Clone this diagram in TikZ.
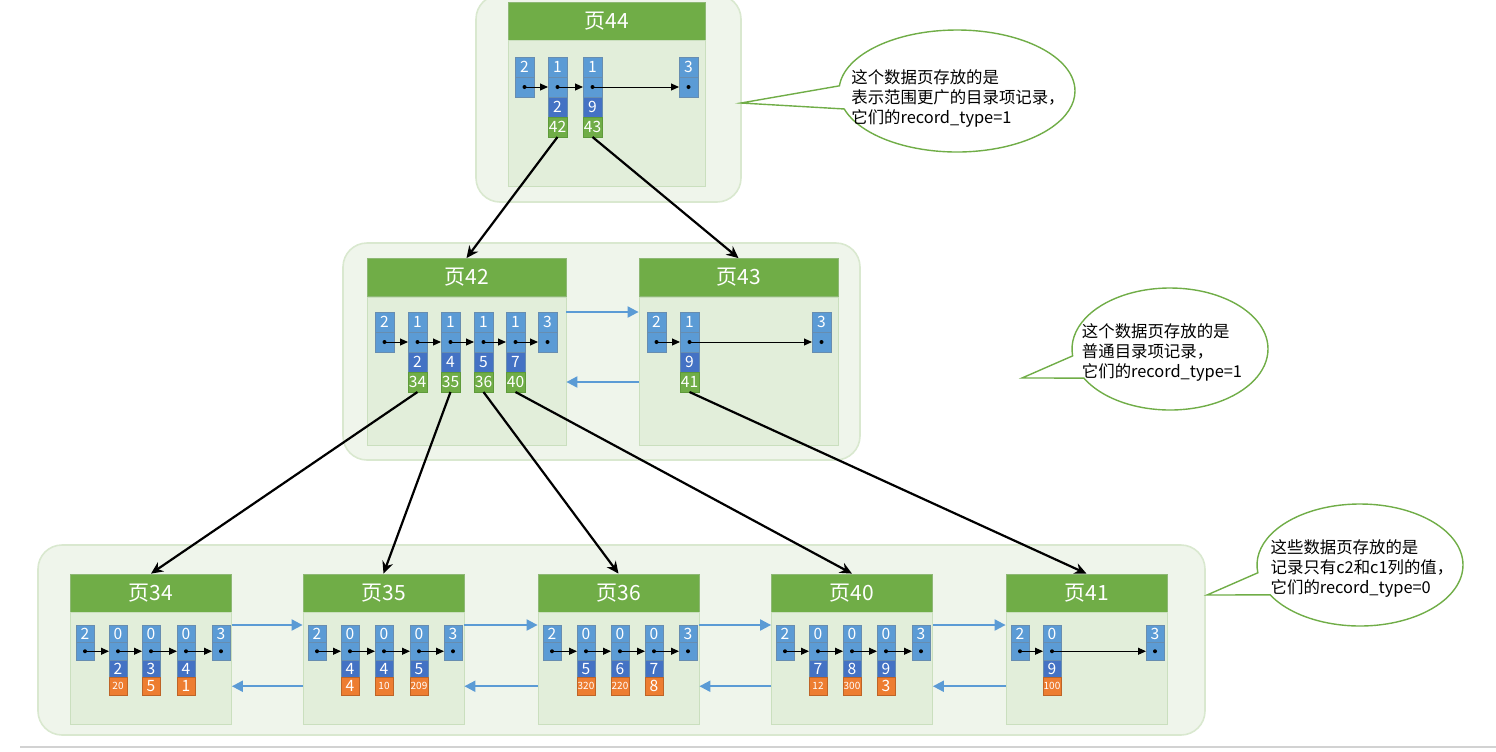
\documentclass[tikz,border=0pt]{standalone}
\usepackage{fontspec}
\setmainfont{Noto Sans CJK SC}
\usetikzlibrary{arrows.meta,positioning,shapes.callouts}
\definecolor{verdeP}{HTML}{70AD47}
\definecolor{verdeB}{HTML}{5E9A3A}
\definecolor{verdeC}{HTML}{E2EEDA}
\definecolor{verdeL}{HTML}{CADFBE}
\definecolor{fondoG}{HTML}{EFF5EB}
\definecolor{bordeG}{HTML}{D9E8CF}
\definecolor{azulR}{HTML}{5B9BD5}
\definecolor{azulB}{HTML}{41719C}
\definecolor{azulO}{HTML}{4472C4}
\definecolor{naranja}{HTML}{ED7D31}
\newcommand\pq{\fontsize{5}{5}\selectfont}

\begin{document}
\begin{tikzpicture}[x=0.5pt,y=-0.5pt,>=Stealth,
  grupo/.style={fill=fondoG,draw=bordeG,line width=0.8pt,rounded corners=12pt},
  titulo/.style={fill=verdeP,draw=verdeB!70,text=white,inner sep=0pt,
                 minimum height=19pt,font=\fontsize{10.5}{12}\selectfont},
  cuerpo/.style={fill=verdeC,draw=verdeL,inner sep=0pt},
  celda/.style={draw=azulB!80,inner sep=0pt,outer sep=0pt,anchor=north west,
                minimum width=9.5pt,minimum height=10pt,text=white,
                font=\fontsize{7.8}{8}\selectfont},
  rec/.style={celda,fill=azulR},
  clave/.style={celda,fill=azulO},
  hoja/.style={celda,fill=verdeP,draw=verdeB},
  valor/.style={celda,fill=naranja,draw=naranja!80!black},
  chica/.style={minimum width=9pt,minimum height=8.75pt},
  enlace/.style={-{Triangle[length=4pt,width=3.5pt]},line width=0.5pt},
  puntero/.style={-{Stealth[length=6pt,width=5.5pt]},line width=1.1pt},
  flecha/.style={-{Triangle[length=5.5pt,width=5.5pt]},azulR,line width=1pt},
  nota/.style={ellipse callout,draw=verdeP,fill=white,line width=0.7pt,
               callout pointer arc=22},
  texto/.style={align=left,font=\fontsize{8.2}{10}\selectfont}]
  \useasboundingbox (0,0) rectangle (1496,751);
  \clip (0,0) rectangle (1496,751);
  % fondos de los niveles
  \draw[grupo] (476,-5) rectangle (741,202);
  \draw[grupo] (343,243) rectangle (860,460);
  \draw[grupo] (38,545) rectangle (1205,735);
  \draw[gray!35,line width=1pt] (20,747) -- (1496,747);

  % pagina 44
  \node[titulo,minimum width=98.5pt] (t44) at (606.5,21) {页44};
  \node[cuerpo,minimum width=98.5pt,minimum height=73pt,below=0pt of t44] (c44) {};
  \node[rec] (p44i) at (515,57) {2};
  \node[rec,below=0pt of p44i] (p44ip) {};
  \foreach \x/\k/\v [count=\i] in {548/2/42,583/9/43}{
    \node[rec] (p44r\i) at (\x,57) {1};
    \node[rec,below=0pt of p44r\i] (p44r\i p) {};
    \node[clave,below=0pt of p44r\i p] (p44r\i k) {\k};
    \node[hoja,below=0pt of p44r\i k] (p44r\i v) {\v};
  }
  \node[rec] (p44s) at (679,57) {3};
  \node[rec,below=0pt of p44s] (p44sp) {};
  \foreach \a/\b in {p44ip/p44r1p,p44r1p/p44r2p,p44r2p/p44sp}
    \draw[enlace] (\a.center) -- (\b.west);
  \foreach \a in {p44ip,p44r1p,p44r2p,p44sp}
    \fill (\a) circle (1pt);

  % pagina 42
  \node[titulo,minimum width=99.5pt] (t42) at (466.5,277.5) {页42};
  \node[cuerpo,minimum width=99.5pt,minimum height=74pt,below=0pt of t42] (c42) {};
  \node[rec] (p42i) at (375,312) {2};
  \node[rec,below=0pt of p42i] (p42ip) {};
  \foreach \x/\k/\v [count=\i] in {408/2/34,441/4/35,474/5/36,506/7/40}{
    \node[rec] (p42r\i) at (\x,312) {1};
    \node[rec,below=0pt of p42r\i] (p42r\i p) {};
    \node[clave,below=0pt of p42r\i p] (p42r\i k) {\k};
    \node[hoja,below=0pt of p42r\i k] (p42r\i v) {\v};
  }
  \node[rec] (p42s) at (538,312) {3};
  \node[rec,below=0pt of p42s] (p42sp) {};
  \foreach \a/\b in {p42ip/p42r1p,p42r1p/p42r2p,p42r2p/p42r3p,p42r3p/p42r4p,p42r4p/p42sp}
    \draw[enlace] (\a.center) -- (\b.west);
  \foreach \a in {p42ip,p42r1p,p42r2p,p42r3p,p42r4p,p42sp}
    \fill (\a) circle (1pt);

  % pagina 43
  \node[titulo,minimum width=99.5pt] (t43) at (738.5,277.5) {页43};
  \node[cuerpo,minimum width=99.5pt,minimum height=74pt,below=0pt of t43] (c43) {};
  \node[rec] (p43i) at (647,312) {2};
  \node[rec,below=0pt of p43i] (p43ip) {};
  \node[rec] (p43r1) at (680,312) {1};
  \node[rec,below=0pt of p43r1] (p43r1p) {};
  \node[clave,below=0pt of p43r1p] (p43r1k) {9};
  \node[hoja,below=0pt of p43r1k] (p43r1v) {41};
  \node[rec] (p43s) at (812,312) {3};
  \node[rec,below=0pt of p43s] (p43sp) {};
  \foreach \a/\b in {p43ip/p43r1p,p43r1p/p43sp}
    \draw[enlace] (\a.center) -- (\b.west);
  \foreach \a in {p43ip,p43r1p,p43sp}
    \fill (\a) circle (1pt);

  % paginas hoja
  \foreach \n/\x in {34/151,35/383.5,36/618.5,40/852,41/1086.5}{
    \node[titulo,minimum width=80.5pt] (t\n) at (\x,593) {页\n};
    \node[cuerpo,minimum width=80.5pt,minimum height=56pt,below=0pt of t\n] (c\n) {};
  }
  \foreach \n/\xi/\xs in {34/76/212,35/308/444,36/543/679,40/776/912,41/1011/1146}{
    \node[rec,chica] (p\n i) at (\xi,625) {2};
    \node[rec,chica,below=0pt of p\n i] (p\n ip) {};
    \node[rec,chica] (p\n s) at (\xs,625) {3};
    \node[rec,chica,below=0pt of p\n s] (p\n sp) {};
  }
  \foreach \n/\x/\k/\v [count=\i] in {34/109/2/{\pq 20},34/142/3/5,34/177/4/1,
      35/341/4/4,35/375/4/{\pq 10},35/410/5/{\pq 209},
      36/577/5/{\pq 320},36/611/6/{\pq 220},36/645/7/8,
      40/809/7/{\pq 12},40/843/8/{\pq 300},40/877/9/3,
      41/1043/9/{\pq 100}}{
    \node[rec,chica] (q\i) at (\x,625) {0};
    \node[rec,chica,below=0pt of q\i] (q\i p) {};
    \node[clave,chica,below=0pt of q\i p] (q\i k) {\k};
    \node[valor,chica,below=0pt of q\i k] (q\i v) {\v};
  }
  \foreach \a/\b in {p34ip/q1p,q1p/q2p,q2p/q3p,q3p/p34sp,
      p35ip/q4p,q4p/q5p,q5p/q6p,q6p/p35sp,
      p36ip/q7p,q7p/q8p,q8p/q9p,q9p/p36sp,
      p40ip/q10p,q10p/q11p,q11p/q12p,q12p/p40sp,
      p41ip/q13p,q13p/p41sp}{
    \draw[enlace] (\a.center) -- (\b.west);
    \fill (\a) circle (1pt);
  }
  \foreach \a in {p34sp,p35sp,p36sp,p40sp,p41sp}
    \fill (\a) circle (1pt);

  % punteros entre niveles
  \draw[puntero] (p44r1v.south) -- (t42.north);
  \draw[puntero] (p44r2v.south) -- (t43.north);
  \draw[puntero] (p42r1v.south) -- (t34.north);
  \draw[puntero] (p42r2v.south) -- (t35.north);
  \draw[puntero] (p42r3v.south) -- (t36.north);
  \draw[puntero] (p42r4v.south) -- (t40.north);
  \draw[puntero] (p43r1v.south) -- (t41.north);

  % lista doble entre paginas
  \draw[flecha] (c42.east |- p42s.north) -- (c43.west |- p42s.north);
  \draw[flecha] (c43.west |- p42r4v) -- (c42.east |- p42r4v);
  \foreach \a/\b in {34/35,35/36,36/40,40/41}{
    \draw[flecha] (c\a.east |- p\a s.north) -- (c\b.west |- p\a s.north);
    \draw[flecha] (c\b.west |- q1v) -- (c\a.east |- q1v);
  }

  % notas
  \node[nota,minimum width=118pt,minimum height=61pt,
        callout absolute pointer={(741,103)}] (n1) at (957,91) {};
  \node[texto] (n1t) at (958,98)
    {这个数据页存放的是\\表示范围更广的目录项记录，\\它们的record\_type=1};
  \node[nota,minimum width=98pt,minimum height=61pt,
        callout absolute pointer={(1022,378)}] (n2) at (1170,349) {};
  \node[texto] (n2t) at (1162,352)
    {这个数据页存放的是\\普通目录项记录，\\它们的record\_type=1};
  \node[nota,minimum width=103pt,minimum height=61pt,
        callout absolute pointer={(1207,595)}] (n3) at (1360,565) {};
  \node[texto] (n3t) at (1362,568)
    {这些数据页存放的是\\记录只有c2和c1列的值，\\它们的record\_type=0};
\end{tikzpicture}
\end{document}
